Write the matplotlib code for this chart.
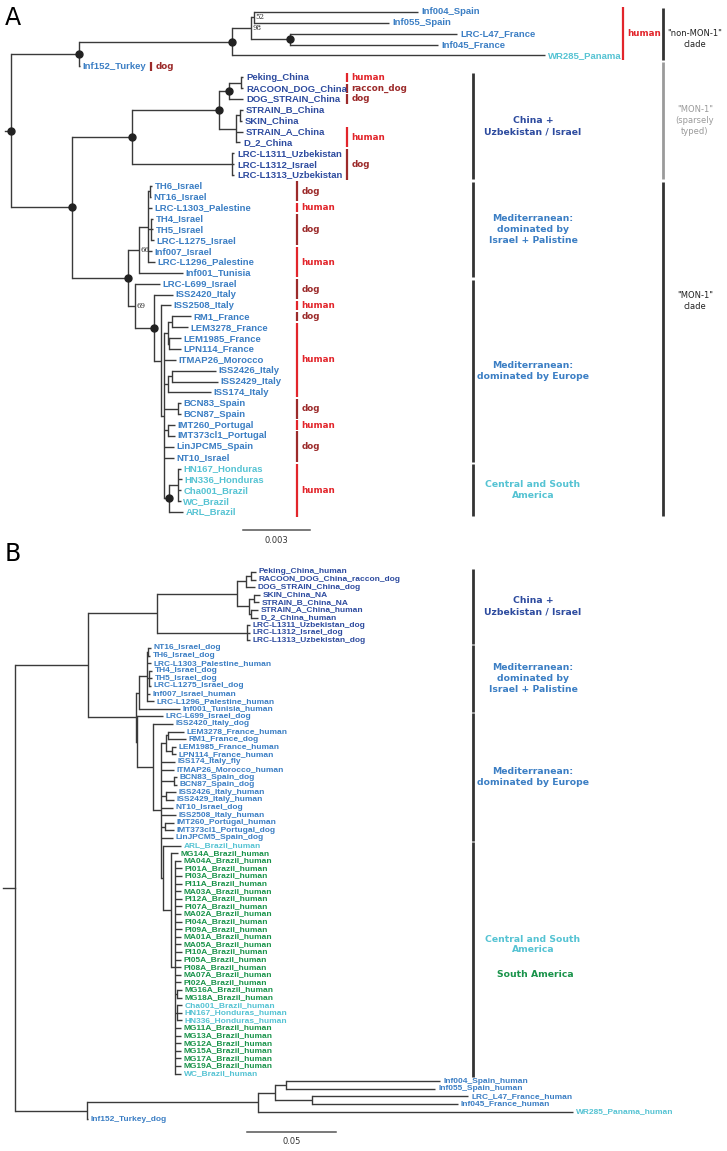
import matplotlib.pyplot as plt

# ---- panel A tree: (child, parent, branch length in subst./site), children keep listed order
a_outgroup = [
    ("rootA", None, 0.0),
    ("nMT", "rootA", 0.00305),
    ("nonMON", "nMT", 0.00685),
    ("n98", "nonMON", 0.00085),
    ("n52", "n98", 0.00013),
    ("Inf004_Spain", "n52", 0.00735),
    ("Inf055_Spain", "n52", 0.00605),
    ("nFr", "n98", 0.00175),
    ("LRC-L47_France", "nFr", 0.00748),
    ("Inf045_France", "nFr", 0.00663),
    ("WR285_Panama", "nonMON", 0.01402),
    ("Inf152_Turkey", "nMT", 0.00004),
]
a_china = [
    ("MON", "rootA", 0.00273),
    ("nC", "MON", 0.00269),
    ("nC1", "nC", 0.0039),
    ("nP", "nC1", 0.00045),
    ("nPR", "nP", 0.00054),
    ("Peking_China", "nPR", 0.00009),
    ("RACOON_DOG_China", "nPR", 0.00009),
    ("DOG_STRAIN_China", "nP", 0.00063),
    ("nS", "nC1", 0.00076),
    ("nBS", "nS", 0.00018),
    ("STRAIN_B_China", "nBS", 0.00013),
    ("SKIN_China", "nBS", 0.00009),
    ("STRAIN_A_China", "nS", 0.00031),
    ("D_2_China", "nS", 0.00018),
    ("nU", "nC", 0.00448),
    ("LRC-L1311_Uzbekistan", "nU", 0.00009),
    ("LRC-L1312_Israel", "nU", 0.00009),
    ("LRC-L1313_Uzbekistan", "nU", 0.00009),
]
a_med = [
    ("nMed", "MON", 0.00251),
    ("nIsr", "nMed", 0.00049),
    ("nI", "nIsr", 0.0004),
    ("nI1", "nI", 0.00009),
    ("TH6_Israel", "nI1", 0.00009),
    ("NT16_Israel", "nI1", 0.00004),
    ("LRC-L1303_Palestine", "nI", 0.00018),
    ("nI2", "nI", 0.00013),
    ("TH4_Israel", "nI2", 0.00009),
    ("TH5_Israel", "nI2", 0.00009),
    ("LRC-L1275_Israel", "nI2", 0.00013),
    ("Inf007_Israel", "nI", 0.00018),
    ("LRC-L1296_Palestine", "nI", 0.00031),
    ("Inf001_Tunisia", "nIsr", 0.00197),
    ("nE", "nMed", 0.00031),
    ("LRC-L699_Israel", "nE", 0.00112),
    ("nEU", "nE", 0.00085),
    ("ISS2420_Italy", "nEU", 0.00085),
    ("nEU2", "nEU", 0.00031),
    ("ISS2508_Italy", "nEU2", 0.00045),
    ("nEU3", "nEU2", 0.00013),
    ("nFR", "nEU3", 0.00018),
    ("nFR1", "nFR", 0.00018),
    ("RM1_France", "nFR1", 0.00085),
    ("LEM3278_France", "nFR1", 0.00072),
    ("nFR2", "nFR", 0.00004),
    ("LEM1985_France", "nFR2", 0.00054),
    ("LPN114_France", "nFR2", 0.00054),
    ("ITMAP26_Morocco", "nEU3", 0.00054),
    ("nIT", "nEU3", 0.00018),
    ("nIT1", "nIT", 0.00018),
    ("ISS2426_Italy", "nIT1", 0.00197),
    ("ISS2429_Italy", "nIT1", 0.00206),
    ("ISS174_Italy", "nIT", 0.00193),
    ("nSP", "nEU3", 0.00063),
    ("BCN83_Spain", "nSP", 0.00013),
    ("BCN87_Spain", "nSP", 0.00013),
    ("nPT", "nEU3", 0.00018),
    ("IMT260_Portugal", "nPT", 0.00031),
    ("IMT373cl1_Portugal", "nPT", 0.00031),
    ("LinJPCM5_Spain", "nEU3", 0.00045),
    ("NT10_Israel", "nEU3", 0.00045),
    ("nSA", "nEU3", 0.00022),
    ("nHN", "nSA", 0.0004),
    ("HN167_Honduras", "nHN", 0.00013),
    ("HN336_Honduras", "nHN", 0.00018),
    ("Cha001_Brazil", "nHN", 0.00013),
    ("WC_Brazil", "nHN", 0.00013),
    ("ARL_Brazil", "nSA", 0.00063),
]
a_dot_nodes = ["rootA", "nMT", "nonMON", "nFr", "nP", "nC1", "nC", "MON", "nMed", "nEU", "nSA"]
a_support_nodes = ["n52", "n98", "nIsr", "nE"]
a_support = [52, 98, 66, 69]

a_hosts_nonmon = [("Inf004_Spain", "WR285_Panama", "human")]
a_hosts_turkey = [("Inf152_Turkey", "Inf152_Turkey", "dog")]
a_hosts_china = [
    ("Peking_China", "Peking_China", "human"),
    ("RACOON_DOG_China", "RACOON_DOG_China", "raccon_dog"),
    ("DOG_STRAIN_China", "DOG_STRAIN_China", "dog"),
    ("STRAIN_A_China", "D_2_China", "human"),
    ("LRC-L1311_Uzbekistan", "LRC-L1313_Uzbekistan", "dog"),
]
a_hosts_med = [
    ("TH6_Israel", "NT16_Israel", "dog"),
    ("LRC-L1303_Palestine", "LRC-L1303_Palestine", "human"),
    ("TH4_Israel", "LRC-L1275_Israel", "dog"),
    ("Inf007_Israel", "Inf001_Tunisia", "human"),
    ("LRC-L699_Israel", "ISS2420_Italy", "dog"),
    ("ISS2508_Italy", "ISS2508_Italy", "human"),
    ("RM1_France", "RM1_France", "dog"),
    ("LEM3278_France", "ISS174_Italy", "human"),
    ("BCN83_Spain", "BCN87_Spain", "dog"),
    ("IMT260_Portugal", "IMT260_Portugal", "human"),
    ("IMT373cl1_Portugal", "NT10_Israel", "dog"),
    ("HN167_Honduras", "ARL_Brazil", "human"),
]

a_clades = [
    ("China +\nUzbekistan / Israel", "Peking_China", "LRC-L1313_Uzbekistan", "navy"),
    ("Mediterranean:\ndominated by\nIsrael + Palistine", "TH6_Israel", "Inf001_Tunisia", "blue"),
    ("Mediterranean:\ndominated by Europe", "LRC-L699_Israel", "NT10_Israel", "blue"),
    ("Central and South\nAmerica", "HN167_Honduras", "ARL_Brazil", "cyan"),
]
a_outer = [
    ('"non-MON-1"\nclade', "Inf004_Spain", "WR285_Panama", "black"),
    ('"MON-1"\n(sparsely\ntyped)', "Inf152_Turkey", "LRC-L1313_Uzbekistan", "gray"),
    ('"MON-1"\nclade', "TH6_Israel", "ARL_Brazil", "black"),
]
a_navy = [n for n, _, _ in a_china]
a_cyan = ["WR285_Panama", "HN167_Honduras", "HN336_Honduras", "Cha001_Brazil", "WC_Brazil", "ARL_Brazil"]

# ---- panel B tree
b_china = [
    ("rootB", None, 0.0),
    ("mon", "rootB", 0.041),
    ("c", "mon", 0.0388),
    ("cu", "c", 0.0449),
    ("prd", "cu", 0.0051),
    ("pr", "prd", 0.0028),
    ("Peking_China_human", "pr", 0.0028),
    ("RACOON_DOG_China_raccon_dog", "pr", 0.0028),
    ("DOG_STRAIN_China_dog", "prd", 0.0051),
    ("ss", "cu", 0.0067),
    ("sb", "ss", 0.0028),
    ("SKIN_China_NA", "sb", 0.0034),
    ("STRAIN_B_China_NA", "sb", 0.0028),
    ("ad", "ss", 0.0011),
    ("STRAIN_A_China_human", "ad", 0.0039),
    ("D_2_China_human", "ad", 0.0039),
    ("u", "c", 0.0506),
    ("LRC-L1311_Uzbekistan_dog", "u", 0.0017),
    ("LRC-L1312_Israel_dog", "u", 0.0017),
    ("LRC-L1313_Uzbekistan_dog", "u", 0.0017),
]
b_med = [
    ("med", "mon", 0.027),
    ("isr", "med", 0.0017),
    ("i", "isr", 0.0045),
    ("nt", "i", 0.0006),
    ("NT16_Israel_dog", "nt", 0.0017),
    ("TH6_Israel_dog", "nt", 0.0011),
    ("LRC-L1303_Palestine_human", "i", 0.0022),
    ("tt", "i", 0.0011),
    ("TH4_Israel_dog", "tt", 0.0017),
    ("TH5_Israel_dog", "tt", 0.0017),
    ("LRC-L1275_Israel_dog", "tt", 0.0011),
    ("Inf007_Israel_human", "i", 0.0017),
    ("LRC-L1296_Palestine_human", "i", 0.0039),
    ("Inf001_Tunisia_human", "isr", 0.023),
    ("e", "med", 0.0006),
    ("LRC-L699_Israel_dog", "e", 0.0146),
    ("eu", "e", 0.009),
    ("ISS2420_Italy_dog", "eu", 0.0112),
    ("eu2", "eu", 0.0045),
    ("fr", "eu2", 0.0028),
    ("fr1", "fr", 0.0011),
    ("LEM3278_France_human", "fr1", 0.009),
    ("RM1_France_dog", "fr1", 0.0101),
    ("fr2", "fr", 0.0034),
    ("LEM1985_France_human", "fr2", 0.0022),
    ("LPN114_France_human", "fr2", 0.0022),
    ("ISS174_Italy_fly", "eu2", 0.0079),
    ("ITMAP26_Morocco_human", "eu2", 0.0073),
    ("sp", "eu2", 0.0073),
    ("BCN83_Spain_dog", "sp", 0.0017),
    ("BCN87_Spain_dog", "sp", 0.0017),
    ("it", "eu2", 0.0028),
    ("ISS2426_Italy_human", "it", 0.0056),
    ("ISS2429_Italy_human", "it", 0.0045),
    ("NT10_Israel_dog", "eu2", 0.0067),
    ("ISS2508_Italy_human", "eu2", 0.0084),
    ("pt", "eu2", 0.0022),
    ("IMT260_Portugal_human", "pt", 0.0051),
    ("IMT373cl1_Portugal_dog", "pt", 0.0051),
    ("LinJPCM5_Spain_dog", "eu2", 0.0067),
    ("sa", "eu2", 0.0011),
    ("ARL_Brazil_human", "sa", 0.0101),
]
b_brazil = [
    ("br", "sa", 0.0045),
    ("MG14A_Brazil_human", "br", 0.0039),
    ("br2", "br", 0.0022),
    ("MA04A_Brazil_human", "br2", 0.0034),
    ("PI01A_Brazil_human", "br2", 0.0039),
    ("PI03A_Brazil_human", "br2", 0.0039),
    ("PI11A_Brazil_human", "br2", 0.0039),
    ("MA03A_Brazil_human", "br2", 0.0034),
    ("PI12A_Brazil_human", "br2", 0.0039),
    ("PI07A_Brazil_human", "br2", 0.0039),
    ("MA02A_Brazil_human", "br2", 0.0034),
    ("PI04A_Brazil_human", "br2", 0.0039),
    ("PI09A_Brazil_human", "br2", 0.0039),
    ("MA01A_Brazil_human", "br2", 0.0034),
    ("MA05A_Brazil_human", "br2", 0.0034),
    ("PI10A_Brazil_human", "br2", 0.0039),
    ("PI05A_Brazil_human", "br2", 0.0034),
    ("PI08A_Brazil_human", "br2", 0.0034),
    ("MA07A_Brazil_human", "br2", 0.0034),
    ("PI02A_Brazil_human", "br2", 0.0034),
    ("mg", "br2", 0.0011),
    ("MG16A_Brazil_human", "mg", 0.0028),
    ("MG18A_Brazil_human", "mg", 0.0028),
    ("ch", "br2", 0.0011),
    ("Cha001_Brazil_human", "ch", 0.0028),
    ("HN167_Honduras_human", "ch", 0.0028),
    ("HN336_Honduras_human", "ch", 0.0028),
    ("MG11A_Brazil_human", "br2", 0.0034),
    ("MG13A_Brazil_human", "br2", 0.0034),
    ("MG12A_Brazil_human", "br2", 0.0034),
    ("MG15A_Brazil_human", "br2", 0.0034),
    ("MG17A_Brazil_human", "br2", 0.0034),
    ("MG19A_Brazil_human", "br2", 0.0034),
    ("WC_Brazil_human", "br2", 0.0034),
]
b_outgroup = [
    ("t", "rootB", 0.0405),
    ("nonmon", "t", 0.0961),
    ("n98", "nonmon", 0.0096),
    ("n52", "n98", 0.0062),
    ("Inf004_Spain_human", "n52", 0.0865),
    ("Inf055_Spain_human", "n52", 0.0837),
    ("nfr", "n98", 0.0208),
    ("LRC_L47_France_human", "nfr", 0.0877),
    ("Inf045_France_human", "nfr", 0.082),
    ("WR285_Panama_human", "nonmon", 0.177),
    ("Inf152_Turkey_dog", "t", 0.0006),
]
b_clades = [
    ("China +\nUzbekistan / Israel", "Peking_China_human", "LRC-L1313_Uzbekistan_dog", "navy"),
    ("Mediterranean:\ndominated by\nIsrael + Palistine", "NT16_Israel_dog", "Inf001_Tunisia_human", "blue"),
    ("Mediterranean:\ndominated by Europe", "LRC-L699_Israel_dog", "LinJPCM5_Spain_dog", "blue"),
    ("Central and South\nAmerica", "ARL_Brazil_human", "WC_Brazil_human", "cyan"),
]
b_navy = [n for n, _, _ in b_china]
b_cyan = ["ARL_Brazil_human", "Cha001_Brazil_human", "HN167_Honduras_human",
          "HN336_Honduras_human", "WC_Brazil_human", "WR285_Panama_human"]
b_green = [n for n, _, _ in b_brazil if n[:2] in ("MG", "MA", "PI")]

COLORS = {"blue": "#3b7ec4", "navy": "#2d4b9f", "cyan": "#55c3d3", "green": "#19934a",
          "black": "#222222", "gray": "#9a9a9a"}
HOST = {"human": "#e2252b", "dog": "#9c2b2b", "raccon_dog": "#9c2b2b"}
LINE = "#3a3a3a"
W, H = 727, 1151


def layout(edges):
    kids, blen, root = {}, {}, None
    for child, parent, length in edges:
        kids.setdefault(child, [])
        blen[child] = length
        if parent is None:
            root = child
        else:
            kids.setdefault(parent, []).append(child)
    x, y, leaves = {}, {}, []

    def walk(n, depth):
        x[n] = depth
        if kids[n]:
            for c in kids[n]:
                walk(c, depth + blen[c])
            y[n] = (y[kids[n][0]] + y[kids[n][-1]]) / 2
        else:
            y[n] = len(leaves)
            leaves.append(n)
    walk(root, 0.0)
    return root, kids, x, y, leaves


def draw_tree(ax, kids, x, y, lw=1.0):
    for n, cs in kids.items():
        if not cs:
            continue
        ax.plot([x[n], x[n]], [y[cs[0]], y[cs[-1]]], color=LINE, lw=lw)
        for c in cs:
            ax.plot([x[n], x[c]], [y[c], y[c]], color=LINE, lw=lw, solid_capstyle='butt')


def leaf_labels(ax, x, y, leaves, colour_of, size):
    for n in leaves:
        ax.annotate(n, (x[n], y[n]), xytext=(2, 0), textcoords='offset points',
                    va='center', ha='left', fontsize=size, fontweight='bold',
                    family='Liberation Sans', color=colour_of(n))


def host_bars(ax, y, groups, xf, pad=0.42):
    tr = ax.get_yaxis_transform()
    for first, last, host in groups:
        c = HOST[host]
        ax.plot([xf, xf], [y[first] - pad, y[last] + pad], transform=tr, color=c, lw=1.6,
                solid_capstyle='butt')
        ax.text(xf + 0.006, (y[first] + y[last]) / 2, host, transform=tr, color=c,
                fontsize=6.3, fontweight='bold', va='center', ha='left')


def clade_bars(ax, y, groups, xf, tx, pad, size, weight, offsets=None):
    tr = ax.get_yaxis_transform()
    offsets = offsets or {}
    for i, (label, first, last, ck) in enumerate(groups):
        c = COLORS[ck]
        ax.plot([xf, xf], [y[first] - pad, y[last] + pad], transform=tr,
                color="#9a9a9a" if ck == "gray" else "#333333", lw=2.0, solid_capstyle='butt')
        ym = (y[first] + y[last]) / 2 + offsets.get(i, 0)
        ax.text(tx, ym, label, transform=tr, color=c, fontsize=size, fontweight=weight,
                ha='center', va='center', linespacing=1.25)


fig = plt.figure(figsize=(W / 100, H / 100), dpi=100)

# ---------------- panel A
sa = 0.003 / 67            # substitutions per pixel
axa = fig.add_axes([0, 1 - 560 / H, 1, 560 / H])
root, kids, x, y, leaves = layout(a_outgroup + a_china + a_med)
draw_tree(axa, kids, x, y)
axa.plot([-6 * sa, 0], [y[root], y[root]], color=LINE, lw=1.0)
axa.plot([x[n] for n in a_dot_nodes], [y[n] for n in a_dot_nodes], 'o', color="#222222", ms=5)
for n, v in zip(a_support_nodes, a_support):
    axa.annotate(str(v), (x[n], y[n]), xytext=(1.2, 0), textcoords='offset points',
                 fontsize=5, family='DejaVu Serif', va='center', ha='left', color="#333333")


def colour_a(n):
    if n in a_navy:
        return COLORS["navy"]
    if n in a_cyan:
        return COLORS["cyan"]
    return COLORS["blue"]


leaf_labels(axa, x, y, leaves, colour_a, 6.8)
host_bars(axa, y, a_hosts_nonmon, 623 / W)
host_bars(axa, y, a_hosts_turkey, 151 / W)
host_bars(axa, y, a_hosts_china, 347 / W)
host_bars(axa, y, a_hosts_med, 297 / W)
clade_bars(axa, y, a_clades, 473 / W, 533 / W, 0.38, 6.7, 'bold')
clade_bars(axa, y, a_outer, 663 / W, 695 / W, 0.38, 6.0, 'normal', offsets={0: 0.5, 2: -4.4})
x0 = (243 - 11) * sa
axa.plot([x0, x0 + 0.003], [47.65, 47.65], color="#555555", lw=1.1)
axa.text(x0 + 0.0015, 48.6, "0.003", fontsize=6, ha='center', va='center', color="#333333")
axa.text(5 / W, 0.967, "A", transform=axa.transAxes, fontsize=17, va='center', ha='left')
axa.set_xlim(-11 * sa, (W - 11) * sa)
axa.set_ylim((560 - 12) / 10.87, -12 / 10.87)
axa.axis('off')

# ---------------- panel B
sb = 0.05 / 89
axb = fig.add_axes([0, 0, 1, 591 / H])
root, kids, x, y, leaves = layout(b_china + b_med + b_brazil + b_outgroup)
draw_tree(axb, kids, x, y)
axb.plot([-12 * sb, 0], [y[root], y[root]], color=LINE, lw=1.0)


def colour_b(n):
    if n in b_navy:
        return COLORS["navy"]
    if n in b_cyan:
        return COLORS["cyan"]
    if n in b_green:
        return COLORS["green"]
    return COLORS["blue"]


leaf_labels(axb, x, y, leaves, colour_b, 6.0)
clade_bars(axb, y, b_clades, 473 / W, 533 / W, 0.45, 6.7, 'bold', offsets={3: -2.0})
ym = (y["ARL_Brazil_human"] + y["WC_Brazil_human"]) / 2
axb.text(535 / W, ym + 2.0, "South America", transform=axb.get_yaxis_transform(),
         color=COLORS["green"], fontsize=6.7, fontweight='bold', ha='center', va='center')
x0 = (247 - 15) * sb
axb.plot([x0, x0 + 0.05], [73.7, 73.7], color="#555555", lw=1.1)
axb.text(x0 + 0.025, 75.0, "0.05", fontsize=6, ha='center', va='center', color="#333333")
axb.text(5 / W, -2.4, "B", fontsize=17, va='center', ha='left',
         transform=axb.get_yaxis_transform())
axb.set_xlim(-15 * sb, (W - 15) * sb)
axb.set_ylim((H - 572) / 7.6, (560 - 572) / 7.6)
axb.axis('off')

fig.savefig("out.png", dpi=100)
